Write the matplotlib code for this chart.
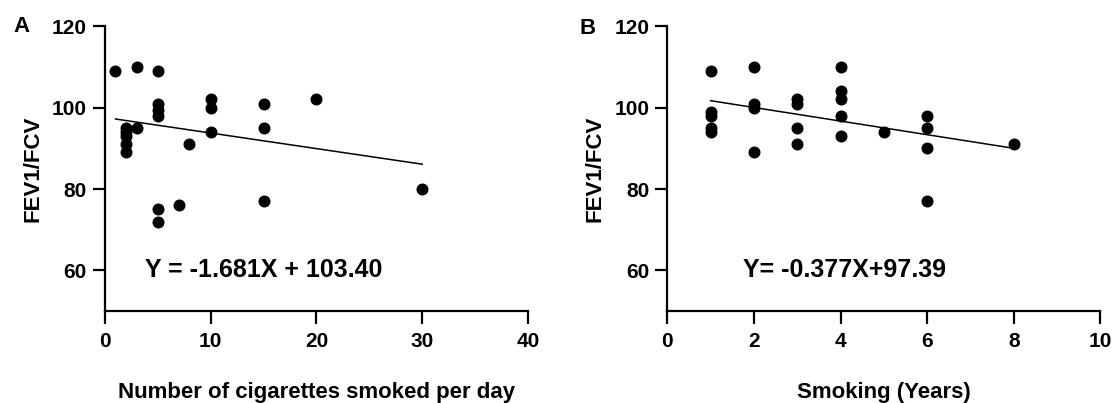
import numpy as np
import matplotlib
matplotlib.use("Agg")
import matplotlib.pyplot as plt

plt.rcParams["font.family"] = ["Liberation Sans", "DejaVu Sans"]
plt.rcParams["font.weight"] = "bold"

# Panel A: cigarettes per day vs FEV1/FCV
cig_x = [1, 3, 5, 5, 5, 5, 2, 2, 2, 2, 2, 3, 8, 10, 10, 10, 5, 5, 7, 15, 15, 15, 20, 30]
cig_y = [109, 110, 109, 101, 99.5, 98, 95, 94, 93, 91, 89, 95, 91, 102, 100, 94, 75, 72, 76, 101, 95, 77, 102, 80]
cig_line_x = [1, 30]
cig_line_y = [97.2, 86.1]
cig_eq = "Y = -1.681X + 103.40"

# Panel B: smoking years vs FEV1/FCV
yrs_x = [1, 1, 1, 1, 1, 2, 2, 2, 2, 3, 3, 3, 3, 4, 4, 4, 4, 4, 5, 6, 6, 6, 6, 8]
yrs_y = [109, 99, 98, 95, 94, 110, 101, 100, 89, 102, 101, 95, 91, 110, 104, 102, 98, 93, 94, 98, 95, 90, 77, 91]
yrs_line_x = [1, 8]
yrs_line_y = [101.7, 90.0]
yrs_eq = "Y= -0.377X+97.39"

fig = plt.figure(figsize=(11.16, 4.03), dpi=100)
axA = fig.add_axes([0.094, 0.228, 0.379, 0.707])
axB = fig.add_axes([0.598, 0.228, 0.388, 0.707])


def style(ax, xlim, xticks, xlabel):
    ax.set_xlim(*xlim)
    ax.set_ylim(50, 120)
    ax.set_xticks(xticks)
    ax.set_yticks([60, 80, 100, 120])
    for s in ["top", "right"]:
        ax.spines[s].set_visible(False)
    for s in ["left", "bottom"]:
        ax.spines[s].set_linewidth(1.6)
    ax.tick_params(width=1.6, length=9, labelsize=15, pad=4)
    ax.tick_params(axis="x", pad=6)
    for lab in ax.get_xticklabels() + ax.get_yticklabels():
        lab.set_fontweight("bold")
    ax.set_xlabel(xlabel, fontsize=16, fontweight="bold", labelpad=22)
    ax.set_ylabel("FEV1/FCV", fontsize=16, fontweight="bold", labelpad=6)


axA.scatter(cig_x, cig_y, s=58, color="black", zorder=3, clip_on=False)
axA.plot(cig_line_x, cig_line_y, color="black", lw=1.1)
axA.text(15, 60, cig_eq, ha="center", va="center", fontsize=18, fontweight="bold")
style(axA, (0, 40), [0, 10, 20, 30, 40], "Number of cigarettes smoked per day")

axB.scatter(yrs_x, yrs_y, s=58, color="black", zorder=3, clip_on=False)
axB.plot(yrs_line_x, yrs_line_y, color="black", lw=1.1)
axB.text(4.1, 60, yrs_eq, ha="center", va="center", fontsize=18, fontweight="bold")
style(axB, (0, 10), [0, 2, 4, 6, 8, 10], "Smoking (Years)")

fig.text(21 / 1116, 1 - 26 / 403, "A", fontsize=16, fontweight="bold", ha="center", va="center")
fig.text(588 / 1116, 1 - 28 / 403, "B", fontsize=16, fontweight="bold", ha="center", va="center")

fig.savefig("out.png", dpi=100)
